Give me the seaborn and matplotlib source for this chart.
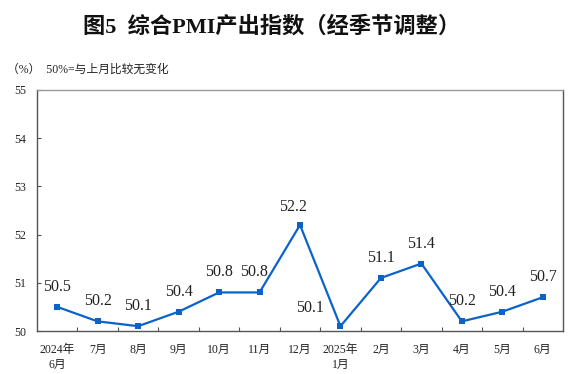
import matplotlib
matplotlib.use("Agg")
import matplotlib.pyplot as plt
import seaborn as sns
import pandas as pd
import numpy as np
from matplotlib.ticker import FixedLocator

months = ["2024年\n6月", "7月", "8月", "9月", "10月", "11月", "12月",
          "2025年\n1月", "2月", "3月", "4月", "5月", "6月"]
values = [50.5, 50.2, 50.1, 50.4, 50.8, 50.8, 52.2, 50.1, 51.1, 51.4, 50.2, 50.4, 50.7]
y_ticks = [50, 51, 52, 53, 54, 55]

# label offsets in pixels (style only)
label_dx = [0, 0, 0, 0, 0, -6, -7, -30, 0, 0, 0, 0, 0]
label_dy = [20, 20, 20, 20, 20, 20, 18, 18, 20, 20, 20, 20, 20]

sns.set_theme(style="white")
serif = ["Liberation Serif", "Noto Sans CJK SC"]
plt.rcParams["font.family"] = serif

fig = plt.figure(figsize=(5.77, 3.74), dpi=100)
ax = fig.add_axes([37/577, 1-331/374, (563-37)/577, (331-90)/374])

df = pd.DataFrame({"x": np.arange(len(values)), "v": values})
sns.lineplot(data=df, x="x", y="v", ax=ax, color="#0b63c9", linewidth=1.6,
             marker="s", markersize=5, markeredgewidth=0, markerfacecolor="#0b63c9")

ax.set_xlim(-0.5, len(values) - 0.5)
ax.set_ylim(50, 55)
ax.set_yticks(y_ticks)
ax.set_yticklabels([str(t) for t in y_ticks], fontsize=8.5, family=serif, color="#222222")
ax.set_xticks(np.arange(len(values)))
ax.set_xticklabels(months, fontsize=8.5, family=serif, linespacing=1.4, color="#222222")
ax.xaxis.set_minor_locator(FixedLocator(np.arange(0.5, len(values) - 1, 1)))
ax.tick_params(axis="x", which="major", length=0, pad=9)
ax.tick_params(axis="x", which="minor", direction="in", length=3, width=0.8, color="#555555", bottom=True)
ax.tick_params(axis="y", which="major", direction="in", length=3, width=0.8, color="#555555", left=True, pad=8)
ax.set_xlabel("")
ax.set_ylabel("")

for side in ["left", "bottom", "right"]:
    ax.spines[side].set_color("#555555")
    ax.spines[side].set_linewidth(1.0)
ax.spines["top"].set_color("#999999")
ax.spines["top"].set_linewidth(1.0)

for i, v in enumerate(values):
    ax.annotate(f"{v:.1f}", (i, v), xytext=(label_dx[i] * 0.72, label_dy[i] * 0.72),
                textcoords="offset points", ha="center", va="center",
                fontsize=11.5, color="#222222", family=serif)

fig.text(272/577, 1-27/374, "图5  综合PMI产出指数（经季节调整）", ha="center", va="center",
         fontsize=16, color="#111111", weight="bold",
         family=["Liberation Serif", "Noto Sans CJK SC"])
fig.text(7/577, 1-70/374, "（%）  50%=与上月比较无变化", ha="left", va="center",
         fontsize=8.5, color="#222222", family=serif)

fig.savefig("out.png", dpi=100)
